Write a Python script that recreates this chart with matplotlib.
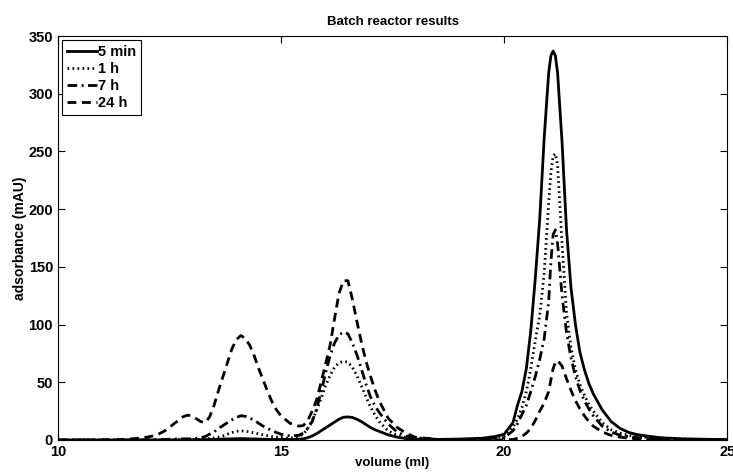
import matplotlib
matplotlib.use('Agg')
import matplotlib.pyplot as plt

plt.rcParams['font.family'] = ['Liberation Sans', 'DejaVu Sans']
plt.rcParams['font.weight'] = 'bold'

# volume grid (ml)
volume = [10, 11, 11.5, 11.8, 12.0, 12.2, 12.4, 12.6, 12.8, 12.9,
          13.0, 13.2, 13.3, 13.4, 13.5, 13.6, 13.7, 13.8, 13.9, 14.0,
          14.1, 14.2, 14.3, 14.4, 14.5, 14.6, 14.7, 14.8, 14.9, 15.0,
          15.2, 15.4, 15.5, 15.6, 15.7, 15.8, 15.9, 16.0, 16.1, 16.2,
          16.3, 16.4, 16.5, 16.6, 16.7, 16.8, 16.9, 17.0, 17.1, 17.2,
          17.4, 17.6, 17.8, 18.0, 18.5, 19.0, 19.5, 19.8, 20.0, 20.2,
          20.3, 20.4, 20.5, 20.6, 20.7, 20.8, 20.9, 21.0, 21.05, 21.1,
          21.15, 21.2, 21.3, 21.4, 21.5, 21.6, 21.7, 21.8, 21.9, 22.0,
          22.2, 22.4, 22.6, 22.8, 23.0, 23.5, 24.0, 25.0]

abs_5min = [0, 0, 0, 0, 0, 0, 0, 0, 0.2, 0.2,
            0.2, 0.3, 0.3, 0.4, 0.5, 0.6, 0.8, 0.9, 1.0, 1.1,
            1.2, 1.1, 1.0, 0.9, 0.8, 0.7, 0.6, 0.5, 0.5, 0.5,
            0.5, 0.7, 1.0, 2.0, 3.5, 5.5, 8, 10.5, 13, 15.5,
            18, 19.7, 20, 19.5, 18, 16, 13.5, 11, 9, 7.5,
            4.5, 2.5, 1.2, 0.7, 0.5, 0.8, 1.5, 3, 5, 15,
            30, 42, 62, 95, 140, 192, 262, 318, 333, 337,
            333, 318, 258, 182, 132, 100, 76, 61, 49, 40,
            26, 16, 10, 6.5, 4.5, 2, 1, 0.3]

abs_1h = [0, 0, 0, 0, 0, 0, 0, 0.2, 0.3, 0.3,
          0.3, 0.5, 0.8, 1.2, 1.8, 2.5, 3.5, 5, 6.5, 7.5,
          8, 7.6, 7, 6.2, 5.3, 4.5, 3.7, 3, 2.5, 2,
          1.5, 3, 5, 10, 17, 26, 36, 47, 56, 63,
          67, 68, 67.5, 63, 56, 47, 38, 29, 22, 16,
          8, 4, 2, 1, 0.5, 0.5, 1, 2, 3, 11,
          18, 28, 42, 62, 86, 108, 145, 205, 232, 246,
          248, 238, 170, 110, 80, 61, 48, 39, 31, 25,
          15, 9, 6, 4, 3, 1.5, 0.8, 0.2]

abs_7h = [0, 0, 0, 0, 0.2, 0.3, 0.5, 0.8, 1, 1,
          1, 2, 3, 5, 7, 10, 12.5, 15, 17.5, 19.5,
          21, 20.5, 19, 17, 14.5, 12, 10, 8, 6.5, 5,
          3.5, 4, 6, 10, 16, 27, 42, 58, 73, 84,
          91, 93.5, 92, 84, 74, 62, 49, 38, 30, 24,
          14, 7, 3.5, 2, 0.5, 0.3, 0.8, 1.5, 2, 8,
          14, 22, 30, 42, 55, 70, 88, 120, 155, 178,
          182, 170, 125, 93, 71, 55, 43, 34, 27, 21,
          12, 7, 4, 3, 2, 1, 0.5, 0.2]

abs_24h = [0, 0, 0.5, 1.5, 2.5, 4, 8, 14, 20, 21.5,
           21, 16, 15, 20, 30, 43, 55, 67, 79, 87,
           90.5, 88, 82, 73, 62, 52, 42, 33, 26, 21,
           14.5, 12, 12.5, 17, 25, 35, 50, 66, 82, 105,
           127, 138, 138, 122, 103, 85, 69, 56, 44, 34,
           19, 11, 6, 2.5, 0.5, 0, 0, 0, 0, 0.5,
           1.5, 3, 6, 10, 17, 25, 32, 42, 52, 62,
           67, 69, 64, 53, 43, 34, 27, 21, 16, 12,
           7, 4, 2.5, 1.5, 1, 0.5, 0.3, 0]

fig = plt.figure(figsize=(7.33, 4.75), dpi=100)
ax = fig.add_axes([0.079, 0.0737, 0.913, 0.8505])

lw = 2.0
ax.plot(volume, abs_5min, color='black', lw=lw, linestyle='-', label='5 min')
ax.plot(volume, abs_1h, color='black', lw=lw, linestyle=(0, (0.6, 1.2)), label='1 h')
ax.plot(volume, abs_7h, color='black', lw=lw, linestyle=(0, (3.5, 1.6, 0.7, 1.6)), label='7 h')
ax.plot(volume, abs_24h, color='black', lw=lw, linestyle=(0, (3.2, 2.0)), label='24 h')

ax.set_xlim(10, 25)
ax.set_ylim(0, 350)
ax.set_xticks([10, 15, 20, 25])
ax.set_yticks(range(0, 351, 50))
ax.tick_params(direction='in', top=True, right=True, labelsize=10.5, length=5, width=0.8)
for lab in ax.get_xticklabels() + ax.get_yticklabels():
    lab.set_fontweight('bold')
for s in ax.spines.values():
    s.set_linewidth(0.8)

ax.set_xlabel('volume (ml)', fontsize=9.5, fontweight='bold', labelpad=-1)
ax.set_ylabel('adsorbance (mAU)', fontsize=10, fontweight='bold', labelpad=1)
ax.set_title('Batch reactor results', fontsize=9.5, fontweight='bold', pad=8)

leg = ax.legend(loc='upper left', prop={'size': 10.5, 'weight': 'bold'}, handlelength=2.0,
                handletextpad=0.1, borderpad=0.35, labelspacing=0.2, borderaxespad=0.3,
                fancybox=False, edgecolor='black', framealpha=1)
leg.get_frame().set_linewidth(0.8)

fig.savefig('out.png', dpi=100)
